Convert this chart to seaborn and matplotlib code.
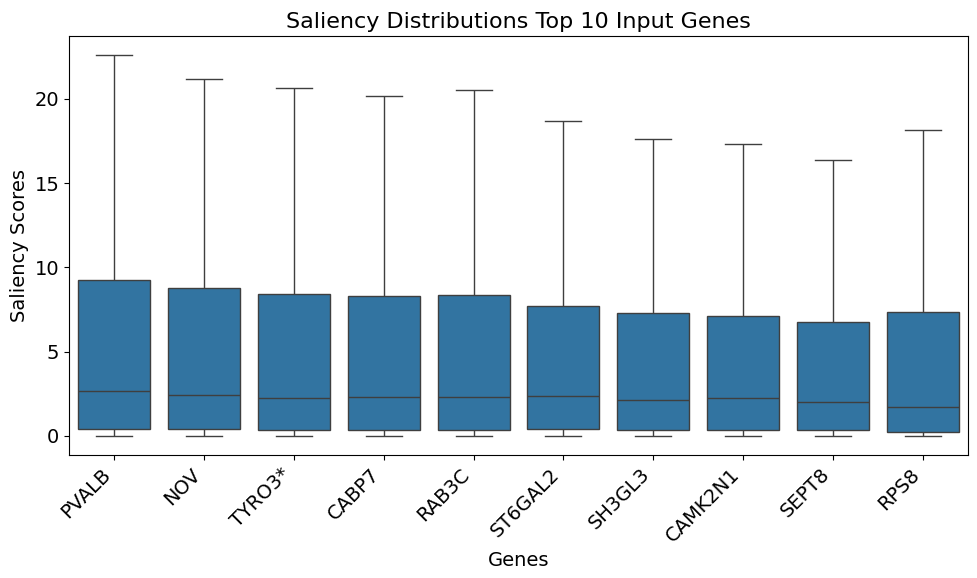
import numpy as np
import pandas as pd
import matplotlib
matplotlib.use('Agg')
import matplotlib.pyplot as plt
import seaborn as sns

# five-number summaries (min, q1, median, q3, max)
genes   = ['PVALB', 'NOV', 'TYRO3*', 'CABP7', 'RAB3C', 'ST6GAL2', 'SH3GL3', 'CAMK2N1', 'SEPT8', 'RPS8']
mins    = [0.0, 0.0, 0.0, 0.0, 0.0, 0.0, 0.0, 0.0, 0.0, 0.0]
q1s     = [0.40, 0.40, 0.34, 0.34, 0.34, 0.40, 0.34, 0.34, 0.34, 0.22]
medians = [2.66, 2.43, 2.25, 2.31, 2.31, 2.37, 2.13, 2.25, 2.01, 1.71]
q3s     = [9.28, 8.75, 8.45, 8.33, 8.39, 7.73, 7.32, 7.14, 6.78, 7.38]
maxs    = [22.6, 21.2, 20.67, 20.2, 20.5, 18.66, 17.63, 17.33, 16.40, 18.17]

rows = []
for g, a, b, c, d, e in zip(genes, mins, q1s, medians, q3s, maxs):
    for v in (a, b, c, d, e):
        rows.append({'Gene': g, 'Saliency': v})
df = pd.DataFrame(rows)

fig, ax = plt.subplots(figsize=(9.77, 5.78), dpi=100)
sns.boxplot(data=df, x='Gene', y='Saliency', order=genes, whis=(0, 100), ax=ax)
ax.set_title('Saliency Distributions Top 10 Input Genes', fontsize=16)
ax.set_xlabel('Genes', fontsize=14)
ax.set_ylabel('Saliency Scores', fontsize=14)
plt.xticks(rotation=45, ha='right', fontsize=14)
plt.yticks(fontsize=14)
fig.subplots_adjust(left=0.0706, right=0.9908, top=0.9377, bottom=0.2128)
plt.savefig('out.png', dpi=100)
plt.close()
